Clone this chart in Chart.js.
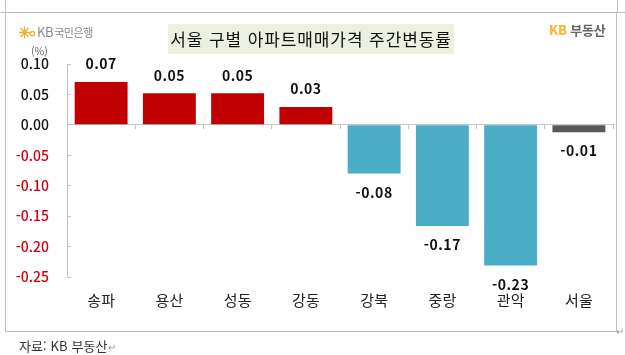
<!DOCTYPE html>
<html lang="ko">
<head>
<meta charset="utf-8">
<script src="https://cdn.jsdelivr.net/npm/chart.js@4"></script>
<style>
  html, body { margin: 0; padding: 0; background: #fff; }
  #wrap { position: relative; width: 625px; height: 355px; overflow: hidden; font-family: "Noto Sans CJK KR", sans-serif; }
  #wrap canvas { position: absolute; left: 0; top: 0; }
  .frame { position: absolute; left: 5px; top: 12px; width: 610px; height: 318px; border: 1px solid #c0c0c0; }
  .mark { position: absolute; background: #c0c0c0; }
  .title { position: absolute; left: 168px; top: 24px; width: 286px; height: 30px; line-height: 29px; background: #ebf0e0; color: #111; font-size: 17px; letter-spacing: 0.9px; text-align: center; white-space: nowrap; }
  .unit { position: absolute; left: 31px; top: 43px; font-size: 10.5px; color: #666; }
  .kb { position: absolute; left: 37px; top: 24px; font-size: 11px; line-height: 16px; color: #8a8a8a; white-space: nowrap; letter-spacing: -0.4px; }
  .kb span { font-size: 13px; margin-right: 1px; }
  .star { position: absolute; left: 19px; top: 26px; }
  .brand { position: absolute; left: 549px; top: 21px; font-size: 13px; line-height: 18px; font-weight: 700; color: #666; white-space: nowrap; letter-spacing: -0.2px; }
  .brand b { color: #f4b93e; }
  .source { position: absolute; left: 19px; top: 337px; font-size: 13px; line-height: 17px; color: #333; white-space: nowrap; letter-spacing: 0.1px; }
  .source i, .pil { font-style: normal; color: #999; font-size: 10px; }
  .pil { position: absolute; left: 616px; top: 323px; }
</style>
</head>
<body>
<div id="wrap">
  <div class="frame"></div>
  <div class="mark" style="left:5px;top:0;width:1px;height:12px"></div>
  <div class="mark" style="left:0;top:12px;width:5px;height:1px"></div>
  <div class="mark" style="left:617px;top:0;width:1px;height:12px"></div>
  <div class="mark" style="left:617px;top:12px;width:8px;height:1px"></div>
  <canvas id="chart" width="625" height="355"></canvas>
  <svg class="star" width="17" height="13" viewBox="0 0 17 13">
    <g stroke="#f0b030" stroke-width="1.3" fill="none">
      <path d="M0 6.5H11M5.5 0.5V12.5M1.5 2L9.5 11M9.5 2L1.5 11"/>
      <circle cx="13.5" cy="7.5" r="2.2"/>
    </g>
  </svg>
  <div class="kb"><span>KB</span>국민은행</div>
  <div class="unit">(%)</div>
  <div class="title">서울 구별 아파트매매가격 주간변동률</div>
  <div class="brand"><b>KB</b> 부동산</div>
  <div class="source">자료: KB 부동산<i>↵</i></div>
  <div class="pil">↵</div>
</div>
<script>
const categories = ['송파', '용산', '성동', '강동', '강북', '중랑', '관악', '서울'];
const changeValues = [0.0705, 0.052, 0.052, 0.0295, -0.08, -0.166, -0.231, -0.012];
const barColors = ['#c00000', '#c00000', '#c00000', '#c00000', '#4bacc6', '#4bacc6', '#4bacc6', '#595959'];
const yTicks = [0.10, 0.05, 0.00, -0.05, -0.10, -0.15, -0.20, -0.25];

const fontFamily = '"Noto Sans CJK KR", sans-serif';

// value labels above / below each bar
const barLabels = {
  id: 'barLabels',
  afterDatasetsDraw(chart) {
    const ctx = chart.ctx;
    const meta = chart.getDatasetMeta(0);
    ctx.save();
    ctx.font = '700 14px ' + fontFamily;
    ctx.letterSpacing = '0.5px';
    ctx.fillStyle = '#111';
    ctx.textAlign = 'center';
    ctx.textBaseline = 'middle';
    meta.data.forEach((bar, i) => {
      const v = changeValues[i];
      const y = v >= 0 ? bar.y - 18 : bar.y + 19;
      ctx.fillText(v.toFixed(2), bar.x, y);
    });
    ctx.restore();
  }
};

new Chart(document.getElementById('chart'), {
  type: 'bar',
  data: {
    labels: categories,
    datasets: [{
      data: changeValues,
      backgroundColor: barColors,
      categoryPercentage: 0.775,
      barPercentage: 1
    }]
  },
  options: {
    responsive: false,
    animation: false,
    events: [],
    layout: { padding: { left: 0, right: 12, top: 64, bottom: 78 } },
    plugins: { legend: { display: false }, title: { display: false }, tooltip: { enabled: false } },
    scales: {
      x: {
        position: { y: 0 },
        offset: true,
        // big tick padding pushes the names to the bottom, but must not eat plot width
        afterFit(scale) { scale.paddingLeft = 0; scale.paddingRight = 0; },
        border: { color: '#c4c4c4', width: 1 },
        grid: { offset: true, drawOnChartArea: false, tickLength: 4, color: '#c4c4c4' },
        ticks: { padding: 162, maxRotation: 0, color: '#222', font: { family: fontFamily, size: 15 } }
      },
      y: {
        min: -0.25,
        max: 0.10,
        afterFit(scale) { scale.width = 67; },
        afterBuildTicks(scale) { scale.ticks = yTicks.map(v => ({ value: v })); },
        border: { color: '#c4c4c4', width: 1 },
        grid: { drawOnChartArea: false, tickLength: -4, color: '#c4c4c4' },
        ticks: {
          padding: 22,
          color: ctx => ctx.tick.value < 0 ? '#d0000f' : '#111',
          font: { family: fontFamily, size: 14, weight: 500 },
          callback: v => v.toFixed(2)
        }
      }
    }
  },
  plugins: [barLabels]
});
</script>
</body>
</html>
